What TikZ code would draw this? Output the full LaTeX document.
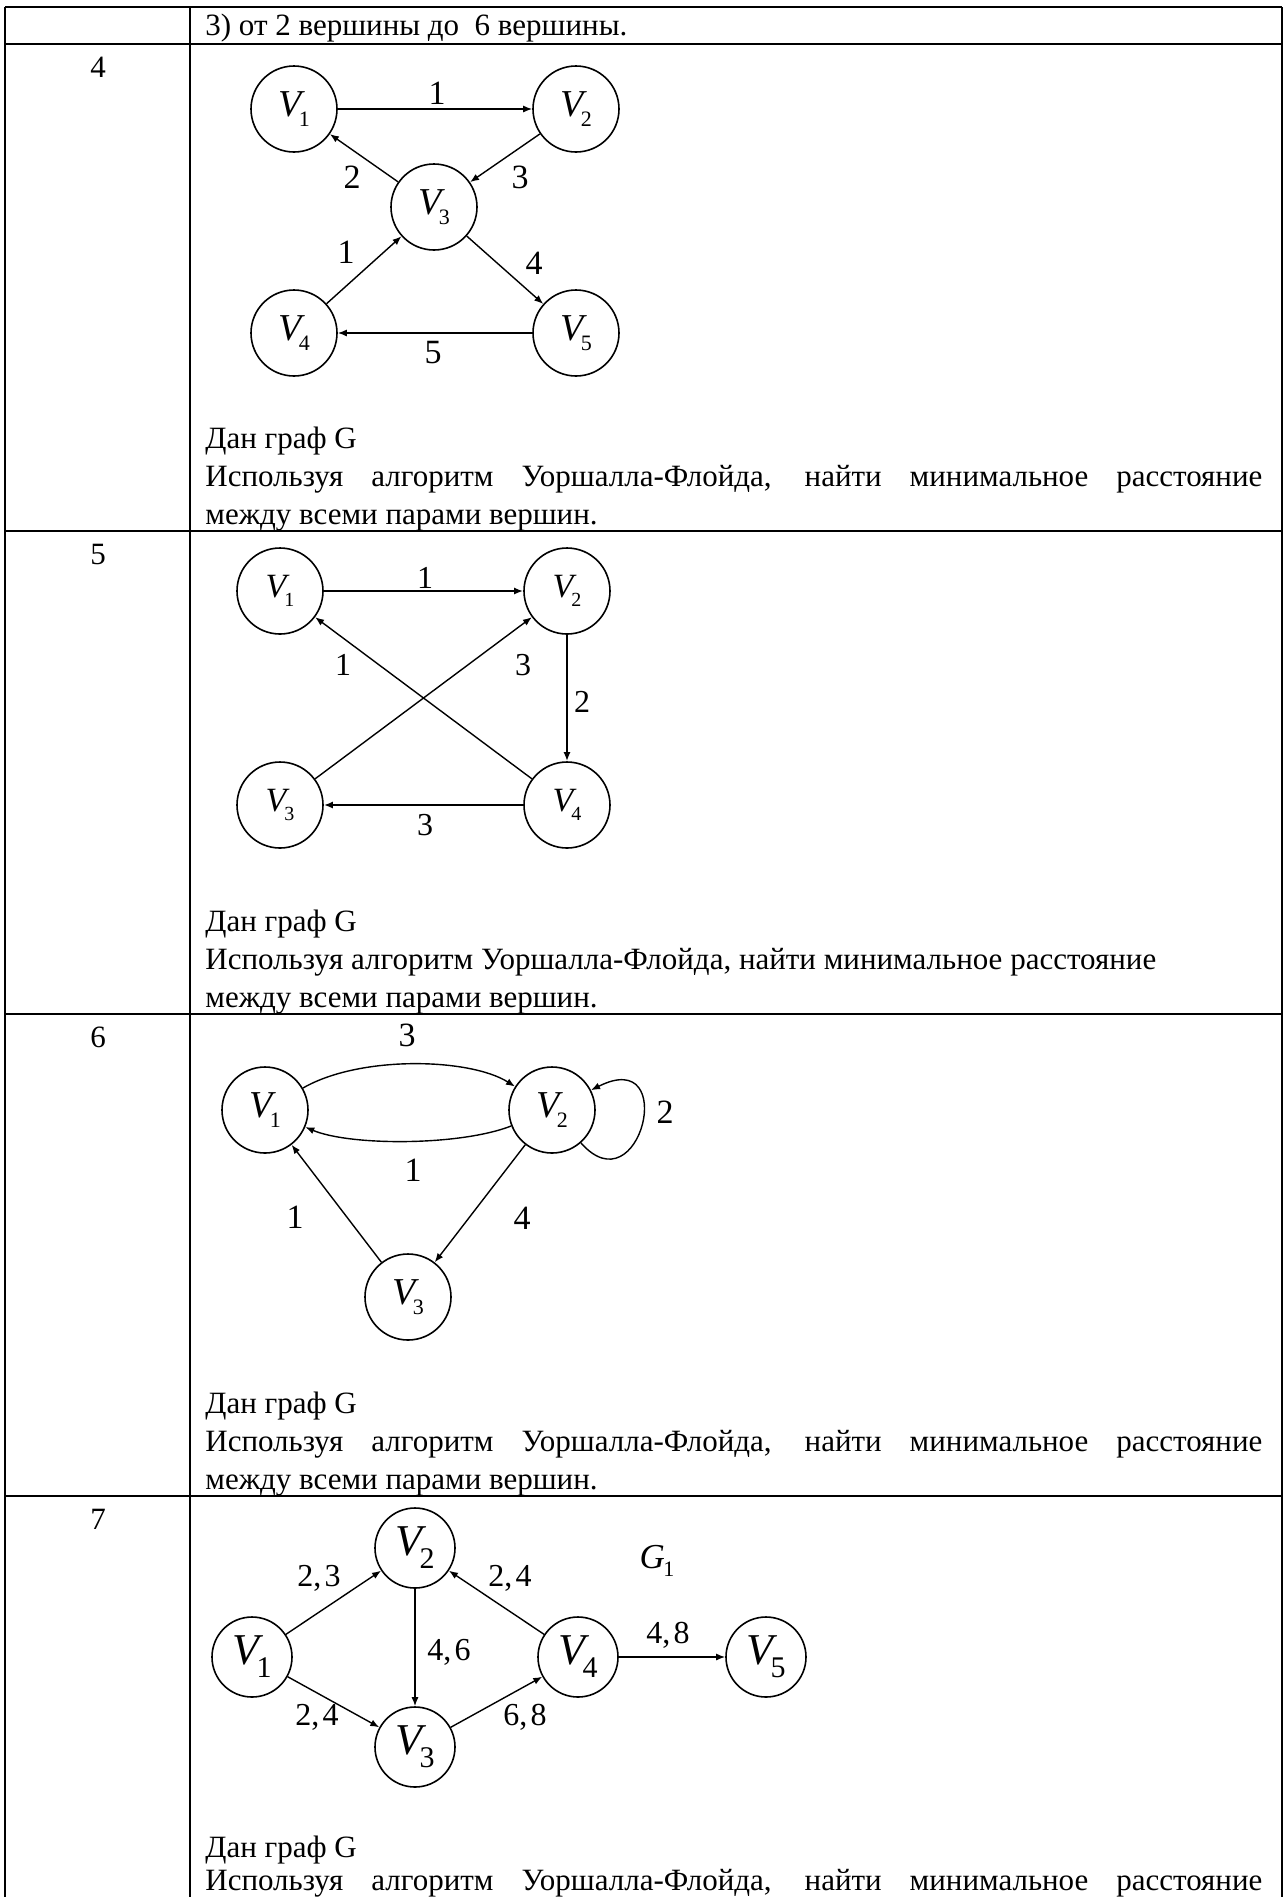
\documentclass[tikz,border=0pt]{standalone}
\usepackage{fontspec}
\setmainfont{Liberation Serif}
\usetikzlibrary{arrows.meta}
\newcommand{\Vx}[3]{{\itshape V}\kern-0.06em\raisebox{-#3}{\fontsize{#2}{#2}\selectfont #1}}
\tikzset{
  tbl/.style={line width=1pt},
  txt/.style={anchor=base west, inner sep=0pt, font=\fontsize{15.5}{15.5}\selectfont},
  num/.style={anchor=base, inner sep=0pt, font=\fontsize{15.5}{15.5}\selectfont},
  vA/.style={circle, draw, line width=0.8pt, minimum size=43pt, inner sep=0pt, font=\fontsize{19}{19}\selectfont},
  vB/.style={circle, draw, line width=0.8pt, minimum size=43pt, inner sep=0pt, font=\fontsize{17}{17}\selectfont},
  vC/.style={circle, draw, line width=0.8pt, minimum size=40pt, inner sep=0pt, font=\fontsize{22}{22}\selectfont},
  arr/.style={-{Latex[length=4.5pt,width=3.5pt]}, line width=0.7pt},
  arrthick/.style={-{Latex[length=4.5pt,width=3.5pt]}, line width=1.2pt},
  elab/.style={inner sep=0pt, font=\fontsize{17}{17}\selectfont},
  elabs/.style={inner sep=0pt, font=\fontsize{16}{16}\selectfont},
}
\begin{document}
\begin{tikzpicture}[x=0.5pt,y=-0.5pt]
\useasboundingbox (0,0) rectangle (1286,1897);
% table
\draw[tbl] (5,7) -- (1282,7);
\draw[tbl] (5,7) -- (5,1897);
\draw[tbl] (1282,7) -- (1282,1897);
\draw[tbl] (190,7) -- (190,1897);
\foreach \yy in {44,531,1014,1496} \draw[tbl] (5,\yy) -- (1282,\yy);
% texts
\node[txt] (t0) at (205,35) {3) от 2 вершины до\ \ 6 вершины.};
\node[num] (n4) at (98,77) {4};
\node[num] (n5) at (98,564) {5};
\node[num] (n6) at (98,1047) {6};
\node[num] (n7) at (98,1529) {7};
% row 4 text
\node[txt] (r4a) at (205,448) {Дан граф G};
\node[txt] (r4b) at (205,486) {\makebox[528.5pt][s]{Используя алгоритм Уоршалла-Флойда, найти минимальное расстояние}};
\node[txt] (r4c) at (205,524) {между всеми парами вершин.};
% row 5 text
\node[txt] (r5a) at (205,931) {Дан граф G};
\node[txt] (r5b) at (205,969) {Используя алгоритм Уоршалла-Флойда, найти минимальное расстояние};
\node[txt] (r5c) at (205,1007) {между всеми парами вершин.};
% row 6 text
\node[txt] (r6a) at (205,1413) {Дан граф G};
\node[txt] (r6b) at (205,1451) {\makebox[528.5pt][s]{Используя алгоритм Уоршалла-Флойда, найти минимальное расстояние}};
\node[txt] (r6c) at (205,1489) {между всеми парами вершин.};
% row 7 text
\node[txt] (r7a) at (205,1857) {Дан граф G};
\node[txt] (r7b) at (205,1890) {\makebox[528.5pt][s]{Используя алгоритм Уоршалла-Флойда, найти минимальное расстояние}};

% ---- graph row 4
\node[vA] (a1) at (294,109) {\Vx{1}{11}{5pt}};
\node[vA] (a2) at (576,109) {\Vx{2}{11}{5pt}};
\node[vA] (a3) at (434,207) {\Vx{3}{11}{5pt}};
\node[vA] (a4) at (294,333) {\Vx{4}{11}{5pt}};
\node[vA] (a5) at (576,333) {\Vx{5}{11}{5pt}};
\draw[arr] (a1) -- (a2);
\draw[arr] (a3) -- (a1);
\draw[arr] (a2) -- (a3);
\draw[arr] (a4) -- (a3);
\draw[arr] (a3) -- (a5);
\draw[arr] (a5) -- (a4);
\node[elab] (la12) at (437,93) {1};
\node[elab] (la31) at (352,177) {2};
\node[elab] (la23) at (520,177) {3};
\node[elab] (la43) at (346,252) {1};
\node[elab] (la35) at (534,263) {4};
\node[elab] (la54) at (433,353) {5};

% ---- graph row 5
\node[vB] (b1) at (280,591) {\Vx{1}{10}{4.5pt}};
\node[vB] (b2) at (567,591) {\Vx{2}{10}{4.5pt}};
\node[vB] (b3) at (280,805) {\Vx{3}{10}{4.5pt}};
\node[vB] (b4) at (567,805) {\Vx{4}{10}{4.5pt}};
\draw[arrthick] (b1) -- (b2);
\draw[arrthick] (b2) -- (b4);
\draw[arrthick] (b4) -- (b3);
\draw[arr] (b4) -- (b1);
\draw[arr] (b3) -- (b2);
\node[elabs] (lb12) at (425,578) {1};
\node[elabs] (lb41) at (343,665) {1};
\node[elabs] (lb32) at (523,665) {3};
\node[elabs] (lb24) at (582,702) {2};
\node[elabs] (lb43) at (425,825) {3};

% ---- graph row 6
\node[vA] (c1) at (265,1110) {\Vx{1}{11}{5pt}};
\node[vA] (c2) at (552,1110) {\Vx{2}{11}{5pt}};
\node[vA] (c3) at (408,1297) {\Vx{3}{11}{5pt}};
\draw[arr] (c1) .. controls (360,1055) and (470,1058) .. (c2);
\draw[arr] (c2) .. controls (460,1146) and (350,1146) .. (c1);
\draw[arr] (c2) .. controls (640,1210) and (680,1045) .. (c2);
\draw[arr] (c3) -- (c1);
\draw[arr] (c2) -- (c3);
\node[elab] (lc12) at (407,1035) {3};
\node[elab] (lc21) at (413,1170) {1};
\node[elab] (lc22) at (665,1112) {2};
\node[elab] (lc31) at (295,1217) {1};
\node[elab] (lc23) at (522,1218) {4};

% ---- graph row 7
\node[vC] (d1) at (252,1657) {\Vx{1}{15}{6.5pt}};
\node[vC] (d2) at (415,1548) {\Vx{2}{15}{6.5pt}};
\node[vC] (d3) at (415,1747) {\Vx{3}{15}{6.5pt}};
\node[vC] (d4) at (578,1657) {\Vx{4}{15}{6.5pt}};
\node[vC] (d5) at (766,1657) {\Vx{5}{15}{6.5pt}};
\draw[arr] (d1) -- (d2);
\draw[arr] (d1) -- (d3);
\draw[arr] (d2) -- (d3);
\draw[arr] (d3) -- (d4);
\draw[arr] (d4) -- (d2);
\draw[arr] (d4) -- (d5);
\node[elabs] (ld12) at (319,1578) {2,\kern0.1em 3};
\node[elabs] (ld13) at (317,1717) {2,\kern0.1em 4};
\node[elabs] (ld23) at (449,1652) {4,\kern0.1em 6};
\node[elabs] (ld34) at (525,1717) {6,\kern0.1em 8};
\node[elabs] (ld42) at (510,1578) {2,\kern0.1em 4};
\node[elabs] (ld45) at (668,1635) {4,\kern0.1em 8};
\node[inner sep=0pt, font=\fontsize{17.5}{17.5}\selectfont] (g1) at (657,1561) {{\itshape G}\kern-0.05em\raisebox{-4pt}{\fontsize{11}{11}\selectfont 1}};
\end{tikzpicture}
\end{document}
